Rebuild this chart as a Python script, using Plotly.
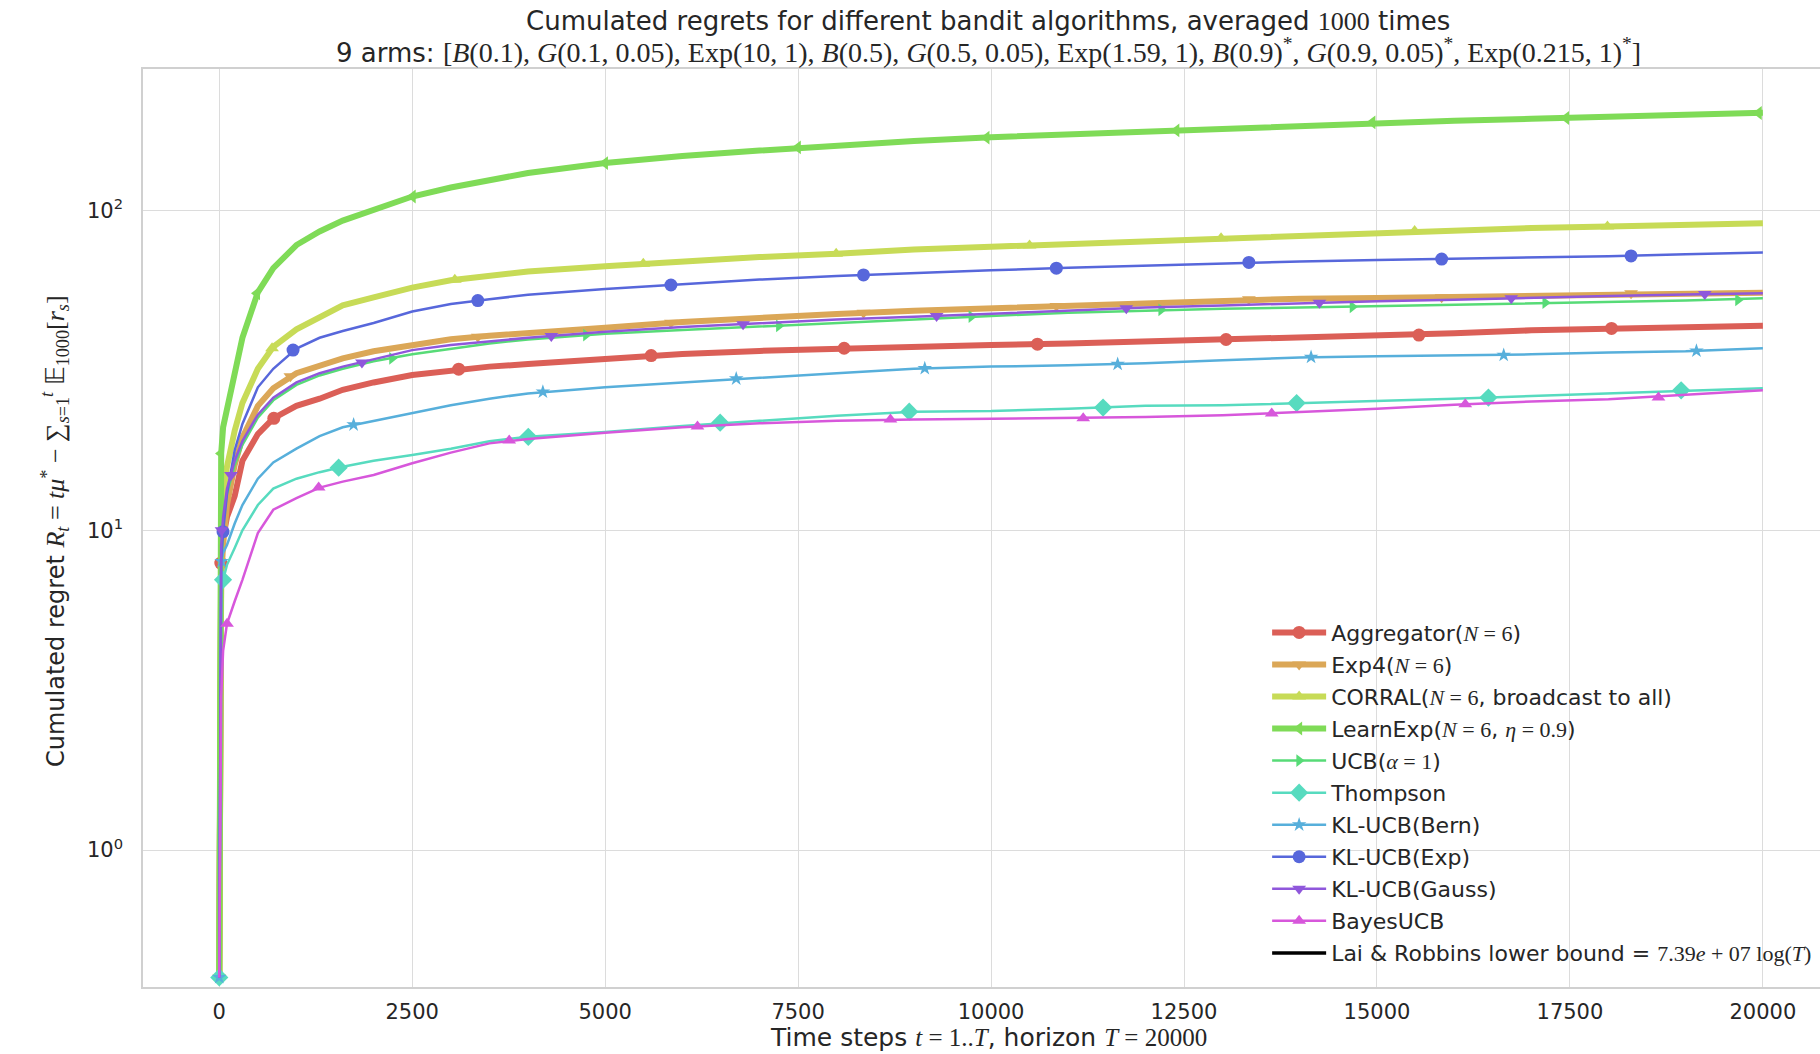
import plotly.graph_objects as go

# ---------------- data ----------------
t_grid = [0, 25, 50, 100, 200, 300, 500, 700, 1000, 1300, 1600, 2000, 2500, 3000, 3500, 4000,
          5000, 6000, 7000, 8000, 9000, 10000, 11000, 12000, 13000, 14000, 15000, 16000,
          17000, 18000, 19000, 20000]

aggregator = [0.4, 7.9, 9.5, 11, 12.8, 16.5, 20, 22.4, 24.5, 25.8, 27.5, 29, 30.6, 31.7, 32.5, 33.1,
              34.5, 35.6, 36.4, 37, 37.6, 38, 38.4, 38.9, 39.5, 40, 40.5, 41.3, 42.2, 42.8, 43.2, 43.6]
exp4 = [0.4, 7, 9, 12, 16, 19.5, 24.5, 27.8, 31, 32.8, 34.5, 36.3, 37.9, 39.6, 40.6, 41.3,
        43, 44.8, 46.2, 47.5, 48.6, 49.5, 50.4, 51.3, 52.4, 53, 53.3, 53.7, 54.3, 55, 55.1, 55.3]
corral = [0.4, 10, 13, 15.8, 20.5, 25, 32, 37.5, 42.5, 46.5, 50.5, 53.5, 57.4, 60.5, 62.5, 64.5,
          67, 69.5, 71.5, 73.2, 75.5, 77, 78.5, 80.3, 82, 84, 85.5, 87, 88.2, 89.1, 90.3, 91.3]
learnexp = [0.4, 17.4, 21, 24, 30, 40, 55.5, 66, 78, 86, 93, 100, 110.6, 118, 125, 131,
            140.7, 148, 154, 160, 165, 169.5, 173, 176.5, 180.5, 185, 188.8, 191, 193.5, 196, 199, 202]
ucb = [0.4, 8.5, 10.5, 13, 16, 18.5, 22.5, 25.5, 28.5, 30.5, 32, 33.8, 35.5, 37, 38.4, 39.5,
       41.2, 42.3, 43.4, 44.6, 45.7, 46.8, 47.9, 48.7, 49.3, 49.7, 50.2, 50.8, 51.4, 51.9, 52.3, 53.2]
thompson = [0.4, 6.5, 7.0, 7.8, 8.8, 10, 12, 13.5, 14.5, 15.2, 15.8, 16.5, 17.2, 18, 19, 19.6,
            20.3, 21.2, 22, 22.8, 23.5, 23.6, 24, 24.5, 24.6, 25, 25.3, 25.8, 26.3, 26.8, 27.4, 27.8]
klucb_bern = [0.4, 8, 8.5, 9, 10.5, 12, 14.5, 16.3, 18, 19.7, 21, 22, 23.2, 24.6, 25.8, 26.8,
              28, 29, 30, 31, 32, 32.5, 32.8, 33.3, 34, 34.7, 35, 35.2, 35.5, 36, 36.3, 37.1]
klucb_exp = [0.4, 8, 9.9, 13, 17.8, 21.5, 28, 32, 37, 40, 42, 44.5, 48.3, 51, 52.8, 54.5,
             56.8, 58.8, 60.8, 62.4, 63.8, 65, 66.2, 67.3, 68.4, 69.3, 70, 70.6, 71.3, 72, 73, 73.9]
klucb_gauss = [0.4, 9, 11, 13.5, 16.5, 19, 23, 26, 29, 31, 32.5, 34.2, 36.6, 38, 39, 40,
               41.8, 43.2, 44.4, 45.6, 46.5, 47.6, 48.7, 49.7, 50.5, 51.3, 52, 52.6, 53.4, 54, 54.6, 55.1]
bayesucb = [0.4, 3, 4.2, 5.1, 6, 7, 9.8, 11.6, 12.6, 13.6, 14.2, 14.9, 16.2, 17.5, 18.7, 19.3,
            20.2, 21, 21.6, 22, 22.2, 22.3, 22.4, 22.6, 22.9, 23.4, 24, 24.7, 25.3, 25.7, 26.5, 27.4]

# marker positions (matplotlib "markevery")
aggregator_mx = [20, 707, 3102, 5596, 8096, 10601, 13045, 15543, 18039]
aggregator_my = [7.9, 22.4, 31.9, 35.2, 37.1, 38.2, 39.5, 40.8, 42.8]
exp4_mx = [0, 921, 3350, 5852, 8347, 10846, 13340, 15838, 18292]
exp4_my = [0.4, 30.3, 40.3, 44.6, 47.9, 50.3, 52.8, 53.6, 55.1]
corral_mx = [684, 3052, 5494, 7993, 10498, 12980, 15488, 17986]
corral_my = [37.1, 60.7, 68.1, 73.2, 77.7, 81.9, 86.3, 89.1]
learnexp_mx = [23, 489, 2506, 4997, 7496, 9940, 12400, 14940, 17450, 19946]
learnexp_my = [17.4, 55.1, 110.6, 140.7, 157.5, 169, 178, 188.7, 194.6, 201.8]
ucb_mx = [2238, 4751, 7251, 9745, 12204, 14683, 17180, 19678]
ucb_my = [34.5, 40.8, 43.6, 46.6, 48.9, 50.0, 51.5, 52.5]
thompson_mx = [0, 49, 1547, 4004, 6490, 8940, 11451, 13959, 16444, 18941]
thompson_my = [0.4, 7.0, 15.7, 19.6, 21.7, 23.5, 24.2, 25.0, 26.0, 27.4]
klucb_bern_mx = [0, 30, 1741, 4193, 6698, 9141, 11640, 14146, 16642, 19139]
klucb_bern_my = [0.4, 8.0, 21.4, 27.1, 29.8, 32.1, 33.1, 34.8, 35.3, 36.4]
klucb_exp_mx = [49, 956, 3350, 5852, 8347, 10846, 13340, 15838, 18292]
klucb_exp_my = [9.9, 36.6, 52.3, 58.5, 62.9, 66.0, 68.8, 70.5, 72.1]
klucb_gauss_mx = [30, 152, 1849, 4302, 6787, 9294, 11752, 14254, 16740, 19247]
klucb_gauss_my = [10, 14.9, 33.5, 40.5, 44.1, 46.8, 49.5, 51.5, 53.2, 54.8]
bayesucb_mx = [101, 1288, 3757, 6196, 8696, 11194, 13636, 16144, 18647]
bayesucb_my = [5.1, 13.6, 19.1, 21.1, 22.2, 22.4, 23.2, 24.8, 26.0]

M = 'font-family:Liberation Serif'
names = [
    f'Aggregator(<span style="{M}"><i>N</i> = 6</span>)',
    f'Exp4(<span style="{M}"><i>N</i> = 6</span>)',
    f'CORRAL(<span style="{M}"><i>N</i> = 6</span>, broadcast to all)',
    f'LearnExp(<span style="{M}"><i>N</i> = 6</span>, <span style="{M}"><i>η</i> = 0.9</span>)',
    f'UCB(<span style="{M}"><i>α</i> = 1</span>)',
    'Thompson',
    'KL-UCB(Bern)',
    'KL-UCB(Exp)',
    'KL-UCB(Gauss)',
    'BayesUCB',
]
lower_bound_name = f'Lai & Robbins lower bound = <span style="{M}">7.39<i>e</i> + 07 log(<i>T</i>)</span>'

series = [aggregator, exp4, corral, learnexp, ucb, thompson, klucb_bern, klucb_exp, klucb_gauss, bayesucb]
marks_x = [aggregator_mx, exp4_mx, corral_mx, learnexp_mx, ucb_mx, thompson_mx, klucb_bern_mx,
           klucb_exp_mx, klucb_gauss_mx, bayesucb_mx]
marks_y = [aggregator_my, exp4_my, corral_my, learnexp_my, ucb_my, thompson_my, klucb_bern_my,
           klucb_exp_my, klucb_gauss_my, bayesucb_my]

colors = ['#db5f57', '#dba757', '#c7db57', '#7fdb57', '#57db77', '#57dbbf',
          '#57afdb', '#5767db', '#8f57db', '#d757db']
symbols = ['circle', 'triangle-down', 'triangle-up', 'triangle-left', 'triangle-right',
           'diamond', 'star', 'circle', 'triangle-down', 'triangle-up']
widths = [6, 6, 6, 6, 2.5, 2.5, 2.5, 2.5, 2.5, 2.5]
msizes = [13, 12, 12, 12, 11, 14, 11, 13, 12, 12]

x_ticks = [0, 2500, 5000, 7500, 10000, 12500, 15000, 17500, 20000]
y_ticks = [1, 10, 100]
y_ticktext = ['10<sup>0</sup>', '10<sup>1</sup>', '10<sup>2</sup>']

# ---------------- figure ----------------
fig = go.Figure()
for i, ys in enumerate(series):
    g = f'g{i}'
    fig.add_trace(go.Scatter(x=t_grid, y=ys, mode='lines', line=dict(color=colors[i], width=widths[i]),
                             showlegend=False, legendgroup=g, hoverinfo='skip'))
    fig.add_trace(go.Scatter(x=marks_x[i], y=marks_y[i], mode='markers',
                             marker=dict(color=colors[i], symbol=symbols[i], size=msizes[i], line=dict(width=0)),
                             showlegend=False, legendgroup=g, hoverinfo='skip'))
    fig.add_trace(go.Scatter(x=[None], y=[None], mode='lines+markers', name=names[i], legendgroup=g,
                             line=dict(color=colors[i], width=widths[i]),
                             marker=dict(color=colors[i], symbol=symbols[i], size=msizes[i], line=dict(width=0))))
fig.add_trace(go.Scatter(x=[None], y=[None], mode='lines', name=lower_bound_name, legendgroup='lb',
                         line=dict(color='black', width=3.5)))

# the page body margin is removed below, so the figure fills the window exactly
W, H = 1820, 1054
L, R, T = 142.6, 0, 69.3
B = H - 987.5
pw, ph = W - L - R, H - T - B

def px(xw):  # window x -> paper
    return (xw - L) / pw

def py(yw):  # window y -> paper
    return (H - B - yw) / ph

FONT = 'DejaVu Sans'
TXT = '#262626'

fig.update_layout(
    width=W, height=H,
    margin=dict(l=L, r=R, t=T, b=B, pad=0),
    paper_bgcolor='white', plot_bgcolor='white',
    font=dict(family=FONT, size=21, color=TXT),
    showlegend=True,
    legend=dict(x=px(1267), y=py(612), xanchor='left', yanchor='top',
                bgcolor='rgba(0,0,0,0)', borderwidth=0,
                font=dict(family=FONT, size=22, color=TXT),
                itemwidth=54, tracegroupgap=0.45, traceorder='grouped'),
    xaxis=dict(range=[-988, 20740], tickvals=x_ticks, ticktext=[str(v) for v in x_ticks],
               showgrid=True, gridcolor='#dcdcdc', gridwidth=1, zeroline=False,
               showline=True, linecolor='#d0d0d0', linewidth=1.5, mirror=True,
               ticks='outside', ticklen=5, tickcolor='rgba(0,0,0,0)',
               tickfont=dict(family=FONT, size=21, color=TXT)),
    yaxis=dict(type='log', range=[-0.428, 2.4425], tickvals=y_ticks, ticktext=y_ticktext,
               showgrid=True, gridcolor='#dcdcdc', gridwidth=1, zeroline=False,
               showline=True, linecolor='#d0d0d0', linewidth=1.5,
               ticks='outside', ticklen=14, tickcolor='rgba(0,0,0,0)',
               tickfont=dict(family=FONT, size=21, color=TXT)),
    annotations=[
        dict(text='Cumulated regrets for different bandit algorithms, averaged <span style="%s">1000</span> times' % M,
             x=px(988), y=py(21), xref='paper', yref='paper', xanchor='center', yanchor='middle',
             showarrow=False, font=dict(family=FONT, size=26, color=TXT)),
        dict(text='9 arms: <span style="%s;font-size:28px">[<i>B</i>(0.1), <i>G</i>(0.1, 0.05), Exp(10, 1), <i>B</i>(0.5), '
                  '<i>G</i>(0.5, 0.05), Exp(1.59, 1), <i>B</i>(0.9)<sup>*</sup>, <i>G</i>(0.9, 0.05)<sup>*</sup>, '
                  'Exp(0.215, 1)<sup>*</sup>]</span>' % M,
             x=px(988), y=py(51), xref='paper', yref='paper', xanchor='center', yanchor='middle',
             showarrow=False, font=dict(family=FONT, size=26, color=TXT)),
        dict(text='Time steps <span style="%s"><i>t</i> = 1..<i>T</i></span>, horizon <span style="%s"><i>T</i> = 20000</span>' % (M, M),
             x=px(988), y=py(1038), xref='paper', yref='paper', xanchor='center', yanchor='middle',
             showarrow=False, font=dict(family=FONT, size=25, color=TXT)),
        dict(text='Cumulated regret <span style="%s;font-size:26px"><i>R<sub>t</sub></i> = <i>tμ</i><sup>*</sup> − '
                  '∑<sub><i>s</i>=1</sub><sup><i>t</i></sup> 𝔼<sub>1000</sub>[<i>r<sub>s</sub></i>]</span>' % M,
             x=px(54), y=py(531), xref='paper', yref='paper', xanchor='center', yanchor='middle',
             textangle=-90, showarrow=False, font=dict(family=FONT, size=24, color=TXT)),
    ],
)

fig.write_html('out.html',
               config={'displayModeBar': False},
               post_script="document.body.style.margin='0';document.body.style.overflow='hidden';")
